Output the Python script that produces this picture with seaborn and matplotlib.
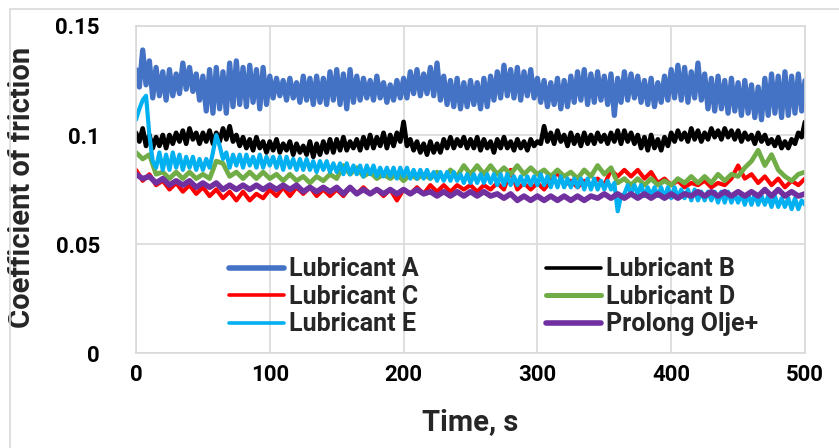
import numpy as np
import pandas as pd
import matplotlib
matplotlib.use("Agg")
import matplotlib.pyplot as plt
import seaborn as sns

# A, B and E were read every 2.5 s (their bands are the most jagged), the rest every 5 s
time_fine = np.arange(0, 500.1, 2.5)
time_s = np.arange(0, 501, 5)

lub_a = [0.130, 0.122, 0.139, 0.123, 0.134, 0.117, 0.131, 0.118, 0.129, 0.116,
         0.130, 0.118, 0.128, 0.119, 0.133, 0.121, 0.131, 0.120, 0.128, 0.116,
         0.127, 0.111, 0.130, 0.110, 0.131, 0.112, 0.129, 0.110, 0.133, 0.113,
         0.134, 0.114, 0.131, 0.113, 0.132, 0.115, 0.130, 0.112, 0.131, 0.114,
         0.127, 0.117, 0.126, 0.118, 0.125, 0.116, 0.126, 0.117, 0.124, 0.115,
         0.127, 0.116, 0.126, 0.114, 0.127, 0.115, 0.126, 0.114, 0.129, 0.116,
         0.130, 0.114, 0.128, 0.112, 0.130, 0.115, 0.127, 0.116, 0.126, 0.117,
         0.125, 0.116, 0.127, 0.117, 0.124, 0.115, 0.123, 0.116, 0.125, 0.117,
         0.126, 0.117, 0.129, 0.119, 0.130, 0.118, 0.128, 0.119, 0.131, 0.118,
         0.133, 0.116, 0.127, 0.114, 0.125, 0.113, 0.126, 0.112, 0.124, 0.113,
         0.125, 0.114, 0.124, 0.112, 0.126, 0.113, 0.127, 0.116, 0.129, 0.117,
         0.132, 0.118, 0.130, 0.117, 0.131, 0.116, 0.129, 0.118, 0.130, 0.117,
         0.126, 0.115, 0.125, 0.113, 0.124, 0.114, 0.126, 0.112, 0.125, 0.113,
         0.127, 0.115, 0.129, 0.116, 0.130, 0.114, 0.128, 0.115, 0.129, 0.116,
         0.127, 0.114, 0.128, 0.109, 0.126, 0.115, 0.129, 0.116, 0.128, 0.117,
         0.127, 0.115, 0.125, 0.114, 0.126, 0.113, 0.124, 0.115, 0.127, 0.116,
         0.130, 0.117, 0.132, 0.116, 0.131, 0.115, 0.129, 0.117, 0.133, 0.116,
         0.128, 0.112, 0.126, 0.111, 0.127, 0.112, 0.125, 0.110, 0.126, 0.111,
         0.124, 0.109, 0.125, 0.110, 0.123, 0.108, 0.122, 0.107, 0.126, 0.109,
         0.128, 0.110, 0.127, 0.108, 0.129, 0.109, 0.127, 0.110, 0.128, 0.111,
         0.125]

lub_b = [0.101, 0.097, 0.103, 0.095, 0.100, 0.094, 0.099, 0.095, 0.100, 0.094,
         0.100, 0.096, 0.101, 0.097, 0.102, 0.096, 0.103, 0.098, 0.101, 0.096,
         0.101, 0.097, 0.102, 0.096, 0.101, 0.097, 0.103, 0.098, 0.104, 0.097,
         0.100, 0.095, 0.099, 0.094, 0.098, 0.093, 0.099, 0.094, 0.097, 0.092,
         0.097, 0.093, 0.098, 0.092, 0.096, 0.093, 0.097, 0.091, 0.096, 0.092,
         0.095, 0.091, 0.097, 0.090, 0.096, 0.091, 0.097, 0.092, 0.098, 0.092,
         0.098, 0.093, 0.099, 0.093, 0.097, 0.094, 0.098, 0.093, 0.099, 0.094,
         0.100, 0.094, 0.099, 0.095, 0.101, 0.094, 0.100, 0.095, 0.101, 0.097,
         0.106, 0.095, 0.098, 0.093, 0.097, 0.092, 0.096, 0.091, 0.097, 0.092,
         0.096, 0.092, 0.098, 0.094, 0.099, 0.094, 0.098, 0.095, 0.099, 0.094,
         0.098, 0.094, 0.099, 0.093, 0.098, 0.094, 0.097, 0.092, 0.098, 0.094,
         0.099, 0.094, 0.097, 0.093, 0.098, 0.094, 0.097, 0.093, 0.098, 0.095,
         0.097, 0.096, 0.104, 0.097, 0.101, 0.096, 0.102, 0.097, 0.100, 0.095,
         0.101, 0.096, 0.100, 0.095, 0.101, 0.096, 0.100, 0.096, 0.101, 0.097,
         0.100, 0.096, 0.101, 0.097, 0.102, 0.096, 0.102, 0.097, 0.101, 0.096,
         0.100, 0.094, 0.099, 0.093, 0.100, 0.094, 0.098, 0.093, 0.099, 0.095,
         0.101, 0.097, 0.102, 0.098, 0.101, 0.097, 0.103, 0.098, 0.102, 0.097,
         0.101, 0.098, 0.103, 0.099, 0.102, 0.098, 0.103, 0.099, 0.102, 0.098,
         0.102, 0.097, 0.101, 0.098, 0.100, 0.096, 0.101, 0.097, 0.100, 0.096,
         0.098, 0.095, 0.099, 0.094, 0.097, 0.094, 0.098, 0.096, 0.101, 0.099,
         0.106]

lub_c = [0.084, 0.079, 0.082, 0.077, 0.079, 0.075, 0.078, 0.074, 0.077, 0.073,
         0.076, 0.072, 0.075, 0.071, 0.074, 0.070, 0.074, 0.070, 0.073, 0.071,
         0.075, 0.072, 0.076, 0.072, 0.076, 0.073, 0.076, 0.072, 0.075, 0.072,
         0.075, 0.072, 0.076, 0.073, 0.076, 0.073, 0.075, 0.072, 0.075, 0.070,
         0.075, 0.073, 0.076, 0.073, 0.077, 0.074, 0.077, 0.074, 0.077, 0.075,
         0.077, 0.074, 0.077, 0.075, 0.078, 0.075, 0.084, 0.075, 0.078, 0.075,
         0.078, 0.075, 0.079, 0.083, 0.077, 0.079, 0.076, 0.079, 0.077, 0.080,
         0.077, 0.084, 0.081, 0.084, 0.081, 0.084, 0.080, 0.083, 0.078, 0.080,
         0.077, 0.079, 0.076, 0.078, 0.077, 0.079, 0.076, 0.078, 0.077, 0.080,
         0.086, 0.080, 0.082, 0.078, 0.081, 0.077, 0.080, 0.076, 0.079, 0.077,
         0.080]

lub_d = [0.092, 0.089, 0.091, 0.082, 0.083, 0.080, 0.083, 0.080, 0.083, 0.080,
         0.082, 0.080, 0.088, 0.087, 0.081, 0.083, 0.080, 0.083, 0.080, 0.083,
         0.080, 0.082, 0.079, 0.082, 0.079, 0.081, 0.078, 0.081, 0.079, 0.082,
         0.080, 0.086, 0.082, 0.085, 0.081, 0.083, 0.080, 0.082, 0.080, 0.082,
         0.079, 0.082, 0.080, 0.082, 0.080, 0.083, 0.080, 0.084, 0.081, 0.086,
         0.082, 0.086, 0.082, 0.086, 0.082, 0.085, 0.082, 0.086, 0.082, 0.085,
         0.082, 0.084, 0.081, 0.084, 0.081, 0.083, 0.080, 0.084, 0.081, 0.086,
         0.082, 0.085, 0.078, 0.080, 0.077, 0.080, 0.077, 0.080, 0.077, 0.079,
         0.077, 0.080, 0.078, 0.081, 0.078, 0.081, 0.078, 0.082, 0.079, 0.082,
         0.081, 0.085, 0.088, 0.093, 0.086, 0.091, 0.084, 0.081, 0.079, 0.082,
         0.083]

lub_e = [0.107, 0.112, 0.116, 0.118, 0.100, 0.088, 0.085, 0.092, 0.084, 0.091,
         0.084, 0.092, 0.085, 0.091, 0.084, 0.090, 0.085, 0.090, 0.084, 0.089,
         0.084, 0.089, 0.085, 0.092, 0.100, 0.095, 0.089, 0.092, 0.085, 0.091,
         0.086, 0.091, 0.085, 0.091, 0.086, 0.090, 0.085, 0.091, 0.085, 0.090,
         0.086, 0.090, 0.085, 0.090, 0.084, 0.090, 0.085, 0.089, 0.084, 0.089,
         0.084, 0.089, 0.084, 0.088, 0.083, 0.088, 0.084, 0.088, 0.083, 0.087,
         0.083, 0.087, 0.082, 0.087, 0.082, 0.086, 0.082, 0.086, 0.081, 0.086,
         0.082, 0.086, 0.081, 0.085, 0.081, 0.085, 0.081, 0.085, 0.080, 0.085,
         0.081, 0.085, 0.080, 0.084, 0.080, 0.084, 0.080, 0.084, 0.080, 0.083,
         0.079, 0.083, 0.079, 0.083, 0.079, 0.083, 0.079, 0.082, 0.078, 0.082,
         0.078, 0.082, 0.078, 0.082, 0.078, 0.082, 0.078, 0.082, 0.077, 0.082,
         0.077, 0.082, 0.077, 0.081, 0.077, 0.081, 0.077, 0.081, 0.077, 0.081,
         0.077, 0.082, 0.077, 0.081, 0.076, 0.081, 0.076, 0.081, 0.076, 0.080,
         0.076, 0.080, 0.076, 0.080, 0.075, 0.080, 0.075, 0.080, 0.075, 0.079,
         0.075, 0.079, 0.075, 0.078, 0.065, 0.072, 0.073, 0.077, 0.073, 0.077,
         0.073, 0.077, 0.072, 0.076, 0.072, 0.076, 0.072, 0.076, 0.071, 0.076,
         0.071, 0.076, 0.071, 0.075, 0.071, 0.075, 0.070, 0.075, 0.070, 0.074,
         0.070, 0.074, 0.070, 0.074, 0.069, 0.074, 0.069, 0.074, 0.069, 0.073,
         0.069, 0.073, 0.068, 0.073, 0.068, 0.073, 0.068, 0.072, 0.068, 0.072,
         0.067, 0.072, 0.067, 0.071, 0.067, 0.071, 0.066, 0.071, 0.066, 0.070,
         0.068]

prolong = [0.082, 0.080, 0.081, 0.078, 0.080, 0.077, 0.079, 0.077, 0.079, 0.076,
           0.078, 0.076, 0.078, 0.075, 0.077, 0.075, 0.077, 0.075, 0.077, 0.075,
           0.077, 0.075, 0.077, 0.075, 0.077, 0.074, 0.076, 0.074, 0.076, 0.074,
           0.076, 0.073, 0.076, 0.073, 0.075, 0.073, 0.075, 0.073, 0.075, 0.073,
           0.075, 0.073, 0.075, 0.073, 0.074, 0.072, 0.074, 0.072, 0.074, 0.072,
           0.074, 0.072, 0.074, 0.072, 0.073, 0.071, 0.073, 0.070, 0.072, 0.070,
           0.072, 0.070, 0.072, 0.070, 0.072, 0.070, 0.072, 0.070, 0.072, 0.071,
           0.073, 0.071, 0.073, 0.071, 0.073, 0.071, 0.073, 0.071, 0.073, 0.071,
           0.073, 0.071, 0.073, 0.072, 0.074, 0.072, 0.074, 0.072, 0.074, 0.072,
           0.074, 0.072, 0.074, 0.072, 0.075, 0.072, 0.075, 0.072, 0.074, 0.072,
           0.073]

names = ["Lubricant A", "Lubricant B", "Lubricant C",
         "Lubricant D", "Lubricant E", "Prolong Olje+"]
colors = ["#4472C4", "#000000", "#FF0000", "#70AD47", "#00B0F0", "#7030A0"]
widths = [3.8, 3.4, 3.0, 3.4, 3.0, 4.0]
legend_widths = [4.0, 2.6, 2.6, 3.6, 2.6, 4.0]

series = [lub_a, lub_b, lub_c, lub_d, lub_e, prolong]
times = [time_fine, time_fine, time_s, time_s, time_fine, time_s]
df = pd.concat([pd.DataFrame({"time": t, "cof": v, "lub": n})
                for t, v, n in zip(times, series, names)], ignore_index=True)

sns.set_theme(style="white")
plt.rcParams["font.family"] = ["Roboto", "DejaVu Sans"]
plt.rcParams["font.weight"] = "bold"

fig = plt.figure(figsize=(8.39, 4.48), dpi=100)
ax = fig.add_axes([136 / 839, 1 - 353 / 448, 669 / 839, 327 / 448])

for name, col, lw in zip(names, colors, widths):
    sns.lineplot(data=df[df["lub"] == name], x="time", y="cof", ax=ax,
                 color=col, linewidth=lw, label=name)

ax.set_xlim(0, 500)
ax.set_ylim(0, 0.15)
ax.set_xticks([0, 100, 200, 300, 400, 500])
ax.set_yticks([0, 0.05, 0.1, 0.15])
ax.set_yticklabels(["0", "0.05", "0.1", "0.15"])
ax.tick_params(axis="both", labelsize=16, length=0, colors="black")
ax.tick_params(axis="y", pad=26)
ax.tick_params(axis="x", pad=8)
for lab in ax.get_xticklabels() + ax.get_yticklabels():
    lab.set_fontweight("bold")
ax.grid(True, color="#D9D9D9", linewidth=1.2)
ax.set_axisbelow(True)
for sp in ax.spines.values():
    sp.set_color("#D9D9D9")
    sp.set_linewidth(1.2)

ax.set_xlabel("Time, s", fontsize=21, fontweight="bold")
ax.set_ylabel("Coefficient of friction", fontsize=21, fontweight="bold")
ax.xaxis.set_label_coords(0.5, -0.168)
ax.yaxis.set_label_coords(-0.15, 0.505)

# legend laid out in rows: A B / C D / E Prolong
h, l = ax.get_legend_handles_labels()
order = [0, 2, 4, 1, 3, 5]
leg = ax.legend([h[i] for i in order], [l[i] for i in order], ncol=2,
                loc="center", bbox_to_anchor=(0.535, 0.172), frameon=False,
                fontsize=18, handlelength=2.2, handletextpad=0.2,
                columnspacing=5.1, labelspacing=0.14)
for t in leg.get_texts():
    t.set_fontweight("bold")
for line, i in zip(leg.get_lines(), order):
    line.set_linewidth(legend_widths[i])

# light chart border like the spreadsheet frame
fig.patches.append(plt.Rectangle((10 / 839, -0.1), 1.2, 1 - 9 / 448 + 0.1,
                                 transform=fig.transFigure, fill=False,
                                 edgecolor="#D9D9D9", linewidth=1.2))

fig.savefig("out.png", dpi=100)
